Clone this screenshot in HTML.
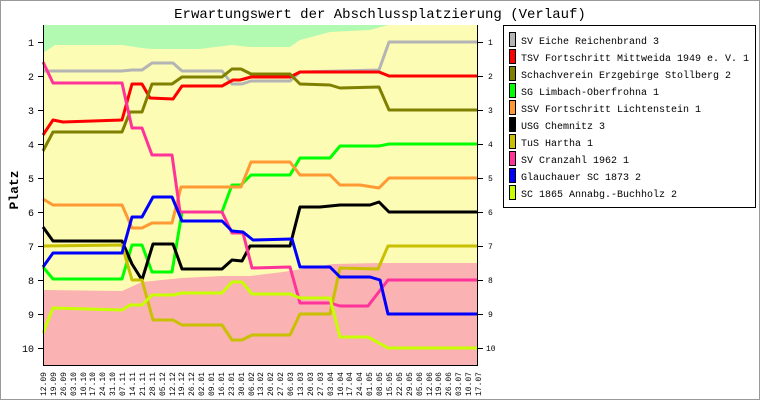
<!DOCTYPE html>
<html><head><meta charset="utf-8"><style>
html,body{margin:0;padding:0;background:#fff}
svg{display:block}
text{font-family:"Liberation Mono","DejaVu Sans Mono",monospace}
</style></head><body>
<svg width="760" height="400" viewBox="0 0 760 400" xmlns="http://www.w3.org/2000/svg">
<rect x="0.5" y="0.5" width="759" height="399" fill="#fff" stroke="#999"/>
<text x="380" y="18" font-size="14" text-anchor="middle" fill="#000">Erwartungswert der Abschlussplatzierung (Verlauf)</text>
<rect x="43" y="25" width="435" height="340" fill="#fcfcb4"/>
<polygon fill="#b2fab2" points="43,25 43,53 55,45 122,45 142,48 152,49 200,49 215,47 232,45 250,47 290,47 300,40 330,32 370,30 388,25"/>
<polygon fill="#fab2b2" points="43,290 122,291 142,282 182,278 222,276 250,276 283,272 333,264 380,263 478,263 478,365 43,365"/>
<g fill="none" stroke-width="3" stroke-linejoin="round">
<polyline stroke="#b4b4b4" points="43,71 122,71 132,70 142,70 152,63 173,63 182,71 222,71 232,84 242,84 251,81 290,81 300,72 379,70 389,42 478,42"/>
<polyline stroke="#ff0000" points="43,135 53,120 63,122 122,120 132,84 142,84 150,98 173,99 182,86 222,86 233,80 240,80 251,77 290,77 300,72 379,72 389,76 478,76"/>
<polyline stroke="#808000" points="43,151 53,132 122,132 130,112 142,112 152,84 172,84 182,77 222,77 232,69 241,69 251,74 290,74 300,84 330,85 340,88 379,87 389,110 478,110"/>
<polyline stroke="#00ff00" points="43,267 53,279 122,279 132,245 142,245 152,272 172,272 182,212 222,212 232,185 241,185 251,175 290,175 300,158 330,158 340,146 379,146 389,144 478,144"/>
<polyline stroke="#ff9933" points="43,199 53,205 122,205 132,228 142,228 152,223 172,223 181,187 241,187 251,162 290,162 300,175 330,175 340,185 360,185 379,188 389,178 478,178"/>
<polyline stroke="#000000" points="43,227 53,241 122,241 132,264 142,280 153,244 173,244 182,269 222,269 232,260 242,261 250,246 290,246 300,207 320,207 340,205 370,205 379,202 389,212 478,212"/>
<polyline stroke="#c8c000" points="43,246 122,245 132,280 142,280 153,320 173,320 182,325 222,325 232,340 242,340 252,335 290,335 300,314 330,314 340,268 378,269 388,246 478,246"/>
<polyline stroke="#ff3399" points="43,62 53,83 122,83 132,128 142,128 152,155 172,155 180,212 222,212 232,233 243,233 252,268 290,267 300,303 330,303 340,306 368,306 388,280 478,280"/>
<polyline stroke="#0000ff" points="43,267 53,253 122,253 132,217 142,217 153,197 172,197 182,221 222,221 232,231 243,232 253,240 292,239 300,267 330,267 340,277 370,277 380,280 388,314 478,314"/>
<polyline stroke="#c8ff00" points="43,333 53,308 122,310 130,305 142,305 152,295 173,295 182,293 222,293 232,282 242,282 252,294 290,294 300,298 330,298 340,337 368,337 388,348 478,348"/>
</g>
<g stroke="#000" stroke-width="1">
<line x1="43.5" y1="25" x2="43.5" y2="366"/>
<line x1="43" y1="365.5" x2="478" y2="365.5"/>
<line x1="477.5" y1="25" x2="477.5" y2="366"/>
<g id="lt">
<line x1="38" y1="42.5" x2="43" y2="42.5"/><line x1="38" y1="76.5" x2="43" y2="76.5"/><line x1="38" y1="110.5" x2="43" y2="110.5"/><line x1="38" y1="144.5" x2="43" y2="144.5"/><line x1="38" y1="178.5" x2="43" y2="178.5"/><line x1="38" y1="212.5" x2="43" y2="212.5"/><line x1="38" y1="246.5" x2="43" y2="246.5"/><line x1="38" y1="280.5" x2="43" y2="280.5"/><line x1="38" y1="314.5" x2="43" y2="314.5"/><line x1="38" y1="348.5" x2="43" y2="348.5"/>
</g>
<use href="#lt" x="440"/>
</g>
<g font-size="10" fill="#000" text-anchor="end">
<text x="34" y="46">1</text><text x="34" y="80">2</text><text x="34" y="114">3</text><text x="34" y="148">4</text><text x="34" y="182">5</text><text x="34" y="216">6</text><text x="34" y="250">7</text><text x="34" y="284">8</text><text x="34" y="318">9</text><text x="34" y="352">10</text>
</g>
<g font-size="8" fill="#000" text-anchor="start">
<text x="488" y="45">1</text><text x="488" y="79">2</text><text x="488" y="113">3</text><text x="488" y="147">4</text><text x="488" y="181">5</text><text x="488" y="215">6</text><text x="488" y="249">7</text><text x="488" y="283">8</text><text x="488" y="317">9</text><text x="486" y="351">10</text>
</g>
<text x="0" y="0" font-size="13" font-weight="bold" transform="translate(18,190) rotate(-90)" text-anchor="middle">Platz</text>
<rect x="503.5" y="25.5" width="252" height="182" fill="#fff" stroke="#000"/>
<g stroke="#000" stroke-width="1">
<rect x="509.5" y="32.5" width="6" height="14" fill="#b4b4b4"/>
<rect x="509.5" y="49.5" width="6" height="14" fill="#ff0000"/>
<rect x="509.5" y="66.5" width="6" height="14" fill="#808000"/>
<rect x="509.5" y="83.5" width="6" height="14" fill="#00ff00"/>
<rect x="509.5" y="100.5" width="6" height="14" fill="#ff9933"/>
<rect x="509.5" y="117.5" width="6" height="14" fill="#000000"/>
<rect x="509.5" y="134.5" width="6" height="14" fill="#c8c000"/>
<rect x="509.5" y="151.5" width="6" height="14" fill="#ff3399"/>
<rect x="509.5" y="168.5" width="6" height="14" fill="#0000ff"/>
<rect x="509.5" y="185.5" width="6" height="14" fill="#c8ff00"/>
</g>
<g font-size="10" fill="#000">
<text x="521" y="44">SV Eiche Reichenbrand 3</text>
<text x="521" y="61">TSV Fortschritt Mittweida 1949 e. V. 1</text>
<text x="521" y="78">Schachverein Erzgebirge Stollberg 2</text>
<text x="521" y="95">SG Limbach-Oberfrohna 1</text>
<text x="521" y="112">SSV Fortschritt Lichtenstein 1</text>
<text x="521" y="129">USG Chemnitz 3</text>
<text x="521" y="146">TuS Hartha 1</text>
<text x="521" y="163">SV Cranzahl 1962 1</text>
<text x="521" y="180">Glauchauer SC 1873 2</text>
<text x="521" y="197">SC 1865 Annabg.-Buchholz 2</text>
</g>
<g font-size="8" fill="#000" text-anchor="end">
<text transform="translate(46,372) rotate(-90)">12.09</text>
<text transform="translate(56,372) rotate(-90)">19.09</text>
<text transform="translate(66,372) rotate(-90)">26.09</text>
<text transform="translate(76,372) rotate(-90)">03.10</text>
<text transform="translate(86,372) rotate(-90)">10.10</text>
<text transform="translate(95,372) rotate(-90)">17.10</text>
<text transform="translate(105,372) rotate(-90)">24.10</text>
<text transform="translate(115,372) rotate(-90)">31.10</text>
<text transform="translate(125,372) rotate(-90)">07.11</text>
<text transform="translate(135,372) rotate(-90)">14.11</text>
<text transform="translate(145,372) rotate(-90)">21.11</text>
<text transform="translate(155,372) rotate(-90)">28.11</text>
<text transform="translate(165,372) rotate(-90)">05.12</text>
<text transform="translate(175,372) rotate(-90)">12.12</text>
<text transform="translate(184,372) rotate(-90)">19.12</text>
<text transform="translate(194,372) rotate(-90)">26.12</text>
<text transform="translate(204,372) rotate(-90)">02.01</text>
<text transform="translate(214,372) rotate(-90)">09.01</text>
<text transform="translate(224,372) rotate(-90)">16.01</text>
<text transform="translate(234,372) rotate(-90)">23.01</text>
<text transform="translate(244,372) rotate(-90)">30.01</text>
<text transform="translate(254,372) rotate(-90)">06.02</text>
<text transform="translate(263,372) rotate(-90)">13.02</text>
<text transform="translate(273,372) rotate(-90)">20.02</text>
<text transform="translate(283,372) rotate(-90)">27.02</text>
<text transform="translate(293,372) rotate(-90)">06.03</text>
<text transform="translate(303,372) rotate(-90)">13.03</text>
<text transform="translate(313,372) rotate(-90)">20.03</text>
<text transform="translate(323,372) rotate(-90)">27.03</text>
<text transform="translate(333,372) rotate(-90)">03.04</text>
<text transform="translate(343,372) rotate(-90)">10.04</text>
<text transform="translate(352,372) rotate(-90)">17.04</text>
<text transform="translate(362,372) rotate(-90)">24.04</text>
<text transform="translate(372,372) rotate(-90)">01.05</text>
<text transform="translate(382,372) rotate(-90)">08.05</text>
<text transform="translate(392,372) rotate(-90)">15.05</text>
<text transform="translate(402,372) rotate(-90)">22.05</text>
<text transform="translate(412,372) rotate(-90)">29.05</text>
<text transform="translate(422,372) rotate(-90)">05.06</text>
<text transform="translate(432,372) rotate(-90)">12.06</text>
<text transform="translate(441,372) rotate(-90)">19.06</text>
<text transform="translate(451,372) rotate(-90)">26.06</text>
<text transform="translate(461,372) rotate(-90)">03.07</text>
<text transform="translate(471,372) rotate(-90)">10.07</text>
<text transform="translate(481,372) rotate(-90)">17.07</text>
</g>
</svg>
</body></html>
